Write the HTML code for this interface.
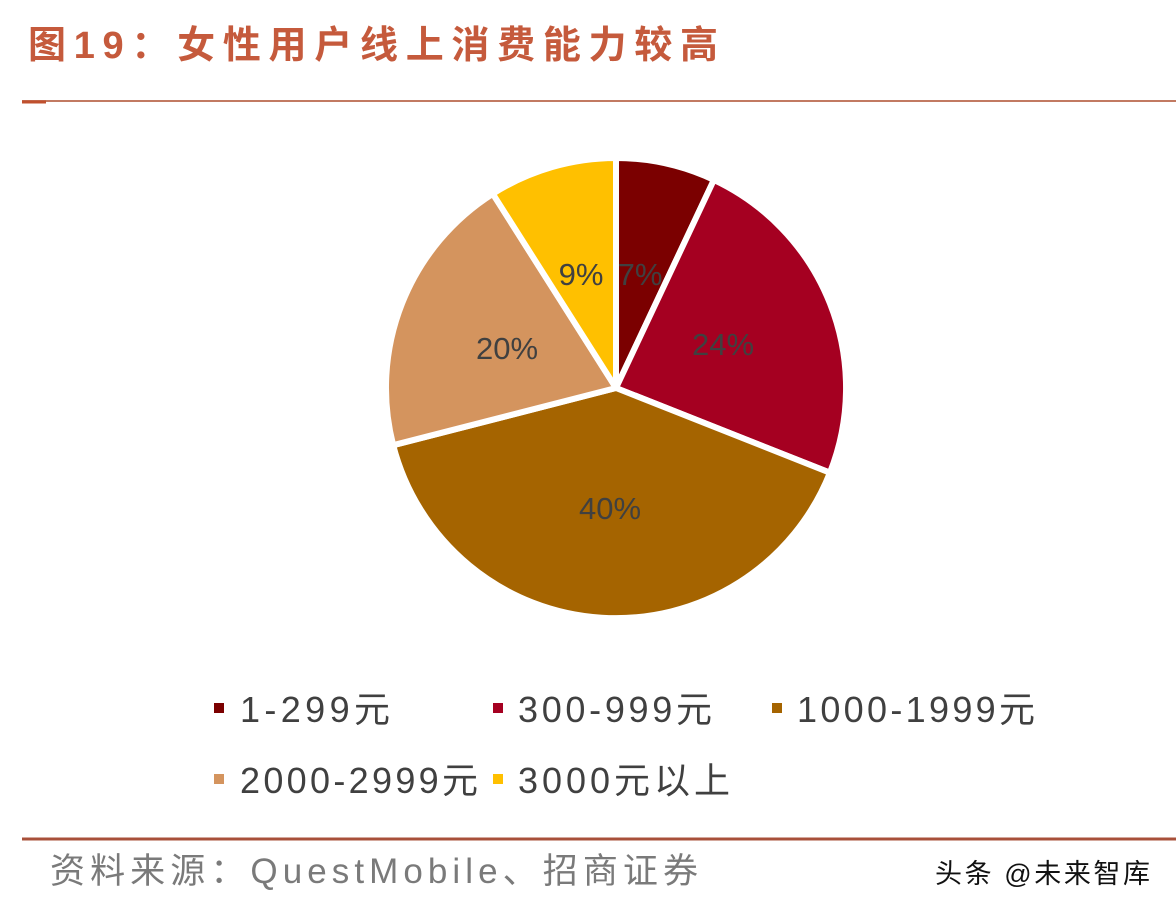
<!DOCTYPE html>
<html><head><meta charset="utf-8"><style>
body{margin:0;background:#fff;}
svg{display:block}
text{font-family:"Liberation Sans","Noto Sans CJK SC",sans-serif;}
</style></head><body>
<svg width="1176" height="914" viewBox="0 0 1176 914" xmlns="http://www.w3.org/2000/svg">
<rect width="1176" height="914" fill="#fff"/>
<text x="28" y="58" font-size="38" font-weight="bold" fill="#c55a3c" textLength="690" lengthAdjust="spacing">图19：女性用户线上消费能力较高</text>
<line x1="22" y1="101" x2="1176" y2="101" stroke="#c27a62" stroke-width="2"/>
<line x1="22" y1="102" x2="46" y2="102" stroke="#c0502e" stroke-width="3"/>
<g stroke="#fff" stroke-width="6" stroke-linejoin="round">
<path d="M616,388 L616,158 A230,230 0 0 1 713.9,179.9 Z" fill="#7b0000"/>
<path d="M616,388 L713.9,179.9 A230,230 0 0 1 829.9,472.7 Z" fill="#a50021"/>
<path d="M616,388 L829.9,472.7 A230,230 0 0 1 393.2,445.2 Z" fill="#a56400"/>
<path d="M616,388 L393.2,445.2 A230,230 0 0 1 492.8,193.8 Z" fill="#d4945e"/>
<path d="M616,388 L492.8,193.8 A230,230 0 0 1 616,158 Z" fill="#ffc000"/>
</g>
<g font-size="31" fill="#404040" text-anchor="middle">
<text x="640" y="285">7%</text>
<text x="581" y="285">9%</text>
<text x="723" y="355">24%</text>
<text x="507" y="359">20%</text>
<text x="610" y="519">40%</text>
</g>
<g font-size="36" fill="#404040">
<rect x="214" y="703" width="10" height="10" fill="#7b0000"/><text x="240" y="722" textLength="150" lengthAdjust="spacing">1-299元</text>
<rect x="493" y="703" width="10" height="10" fill="#a50021"/><text x="518" y="722" textLength="194" lengthAdjust="spacing">300-999元</text>
<rect x="772" y="703" width="10" height="10" fill="#a56400"/><text x="797" y="722" textLength="238" lengthAdjust="spacing">1000-1999元</text>
<rect x="214" y="774" width="10" height="10" fill="#d4945e"/><text x="240" y="793" textLength="238" lengthAdjust="spacing">2000-2999元</text>
<rect x="493" y="774" width="10" height="10" fill="#ffc000"/><text x="518" y="793" textLength="212" lengthAdjust="spacing">3000元以上</text>
</g>
<line x1="22" y1="839" x2="1176" y2="839" stroke="#a8503a" stroke-width="3"/>
<text x="50" y="883" font-size="35" fill="#7a7a7a" textLength="648" lengthAdjust="spacing">资料来源：QuestMobile、招商证券</text>
<text x="935" y="883" font-size="27" fill="#111" textLength="215" lengthAdjust="spacing">头条 @未来智库</text>
</svg>
</body></html>
